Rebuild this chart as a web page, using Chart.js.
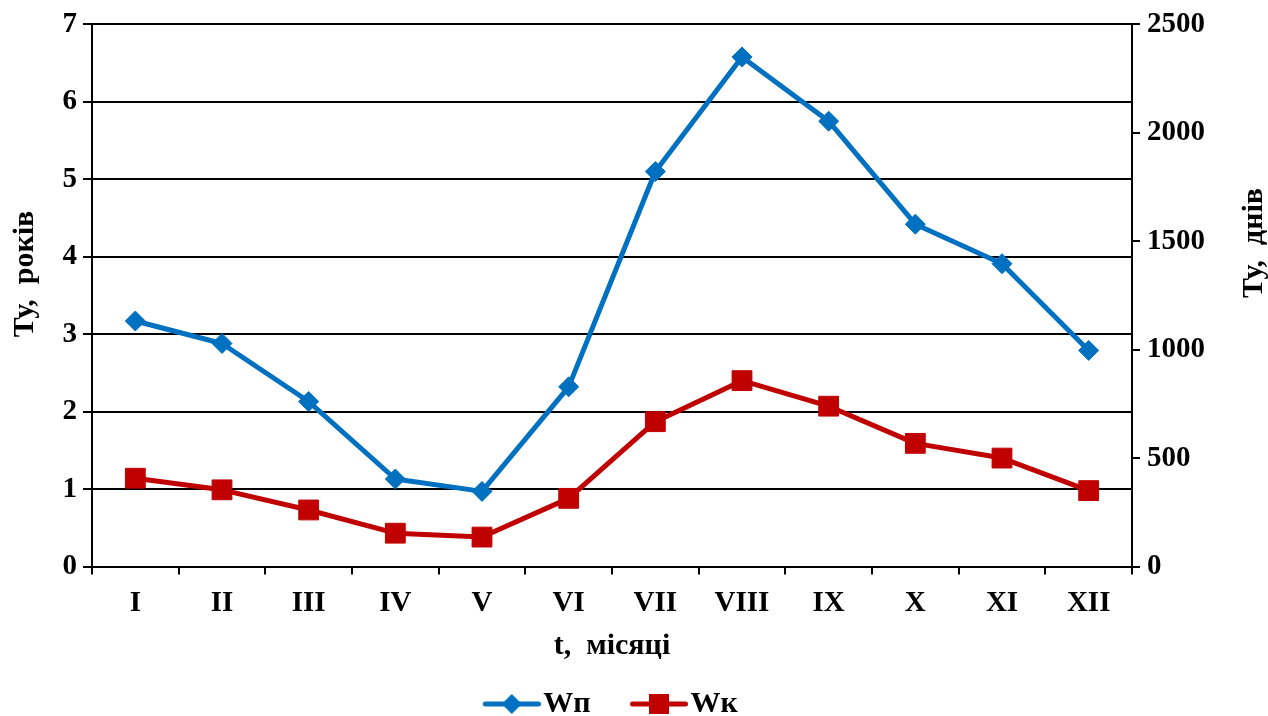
<!DOCTYPE html>
<html>
<head>
<meta charset="utf-8">
<script src="https://cdn.jsdelivr.net/npm/chart.js@4.4.1/dist/chart.umd.min.js"></script>
<style>
  html, body { margin: 0; padding: 0; background: #ffffff; }
  canvas { display: block; }
</style>
</head>
<body>
<canvas id="chart" width="1268" height="716"></canvas>
<script>
// Місяці року
const months = ['I', 'II', 'III', 'IV', 'V', 'VI', 'VII', 'VIII', 'IX', 'X', 'XI', 'XII'];

// Ту, років — для Wп та Wк
const wpYears = [3.17, 2.88, 2.13, 1.13, 0.97, 2.32, 5.10, 6.58, 5.75, 4.42, 3.91, 2.79];
const wkYears = [1.14, 0.99, 0.73, 0.43, 0.38, 0.88, 1.87, 2.40, 2.07, 1.59, 1.40, 0.98];

// Поділки осей
const yearTicks = [0, 1, 2, 3, 4, 5, 6, 7];
const dayTicks = [0, 500, 1000, 1500, 2000, 2500];

const BLUE = '#0070C0';
const RED = '#C00000';
const FONT = "'Liberation Serif', 'Times New Roman', serif";
const PLOT_LEFT = 92;
const PLOT_BOTTOM = 566.5;
const PAD_LEFT = -83;     // зсуває легенду вліво, ліва вісь компенсує ширину
const PAD_BOTTOM = -13;   // опускає легенду ближче до краю
const LEGEND_PAD = 4;

// Маркер легенди: відрізок лінії з позначкою посередині (зліва — відступ між елементами)
function legendSwatch(color, shape) {
  const c = document.createElement('canvas');
  c.width = 106; c.height = 24;
  const g = c.getContext('2d');
  const cx = 77, cy = 12;
  g.strokeStyle = color;
  g.lineWidth = 5;
  g.lineCap = 'round';
  g.beginPath();
  g.moveTo(cx - 26.5, cy);
  g.lineTo(cx + 26.5, cy);
  g.stroke();
  g.fillStyle = color;
  g.beginPath();
  if (shape === 'diamond') {
    g.moveTo(cx - 10, cy); g.lineTo(cx, cy - 10); g.lineTo(cx + 10, cy); g.lineTo(cx, cy + 10);
  } else {
    g.rect(cx - 10, cy - 10, 20, 20);
  }
  g.closePath();
  g.fill();
  return c;
}
const swatches = [legendSwatch(BLUE, 'diamond'), legendSwatch(RED, 'square')];

// Підписи вертикальних осей
const axisTitles = {
  id: 'axisTitles',
  afterDraw(chart) {
    const ctx = chart.ctx;
    ctx.save();
    ctx.fillStyle = '#000';
    ctx.font = 'bold 30px ' + FONT;
    ctx.textAlign = 'center';
    ctx.textBaseline = 'middle';
    const draw = (text, x, y) => {
      ctx.save();
      ctx.translate(x, y);
      ctx.rotate(-Math.PI / 2);
      ctx.fillText(text, 0, 0);
      ctx.restore();
    };
    draw('Ту,  років', 25, 274);
    draw('Ту,  днів', 1254, 243);
    ctx.restore();
  }
};

new Chart(document.getElementById('chart'), {
  type: 'line',
  data: {
    labels: months,
    datasets: [
      {
        label: 'Wп',
        data: wpYears,
        yAxisID: 'y',
        borderColor: BLUE,
        backgroundColor: BLUE,
        borderWidth: 5,
        borderJoinStyle: 'round',
        borderCapStyle: 'round',
        pointStyle: 'rectRot',
        pointRadius: 10,
        pointHoverRadius: 10,
        pointBackgroundColor: BLUE,
        pointBorderColor: BLUE,
        pointBorderWidth: 1,
        tension: 0
      },
      {
        label: 'Wк',
        data: wkYears,
        yAxisID: 'y',
        borderColor: RED,
        backgroundColor: RED,
        borderWidth: 5,
        borderJoinStyle: 'round',
        borderCapStyle: 'round',
        pointStyle: 'rect',
        pointRadius: 14,
        pointHoverRadius: 14,
        pointBackgroundColor: RED,
        pointBorderColor: RED,
        pointBorderWidth: 1,
        tension: 0
      }
    ]
  },
  options: {
    responsive: false,
    animation: false,
    devicePixelRatio: 1,
    layout: { padding: { top: 22, left: PAD_LEFT, right: 0, bottom: PAD_BOTTOM } },
    plugins: {
      tooltip: { enabled: false },
      legend: {
        position: 'bottom',
        labels: {
          usePointStyle: true,
          pointStyleWidth: 81,
          padding: LEGEND_PAD,
          color: '#000',
          font: { family: FONT, size: 30, weight: 'bold' },
          generateLabels(chart) {
            const items = Chart.defaults.plugins.legend.labels.generateLabels(chart);
            items.forEach((it, i) => { it.pointStyle = swatches[i]; it.rotation = 0; });
            return items;
          }
        }
      }
    },
    scales: {
      x: {
        offset: true,
        grid: { offset: true, drawOnChartArea: false, drawTicks: true, tickLength: 8, color: '#000', lineWidth: 2 },
        border: { color: '#000', width: 2 },
        ticks: { color: '#000', padding: 12, font: { family: FONT, size: 29, weight: 'bold' }, maxRotation: 0 },
        title: { display: true, text: 't,  місяці', color: '#000', font: { family: FONT, size: 30, weight: 'bold' }, padding: { top: 4, bottom: 21 } },
        afterFit(scale) {
          const legendH = scale.chart.legend ? scale.chart.legend.height : 0;
          scale.height = scale.chart.height - PAD_BOTTOM - legendH - PLOT_BOTTOM;
        }
      },
      y: {
        position: 'left',
        min: yearTicks[0],
        max: yearTicks[yearTicks.length - 1],
        afterBuildTicks(scale) { scale.ticks = yearTicks.map(v => ({ value: v })); },
        grid: { color: '#000', lineWidth: 2, drawTicks: true, tickLength: 9 },
        border: { color: '#000', width: 2 },
        ticks: { color: '#000', padding: 6, font: { family: FONT, size: 29, weight: 'bold' } },
        afterFit(scale) { scale.width = PLOT_LEFT - PAD_LEFT; }
      },
      y2: {
        position: 'right',
        min: dayTicks[0],
        max: dayTicks[dayTicks.length - 1],
        afterBuildTicks(scale) { scale.ticks = dayTicks.map(v => ({ value: v })); },
        grid: { drawOnChartArea: false, drawTicks: true, tickLength: 8, color: '#000', lineWidth: 2 },
        border: { color: '#000', width: 2 },
        ticks: {
          color: '#000', padding: 7, font: { family: FONT, size: 29, weight: 'bold' },
          callback: (v) => String(v)
        },
        afterFit(scale) { scale.width = 136; }
      }
    }
  },
  plugins: [axisTitles]
});
</script>
</body>
</html>
